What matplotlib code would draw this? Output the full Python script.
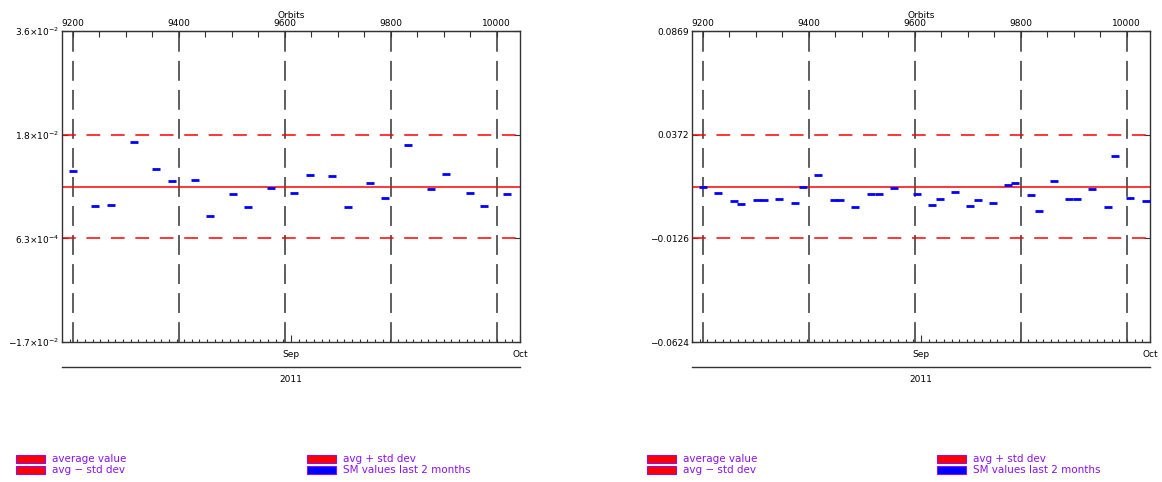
import numpy as np
import matplotlib.pyplot as plt
from matplotlib.patches import Rectangle
from matplotlib.ticker import MultipleLocator

# time axis: 60 days (2 Aug 2011 -> 1 Oct 2011) expressed in orbit numbers
orbit_start = 9180.0
orbits_per_day = 14.4
n_days = 60
orbit_ticks = [9200, 9400, 9600, 9800, 10000]
month_labels = ['Sep', 'Oct']
month_days = [30, 60]
year_label = '2011'

# left panel
left_avg = 0.009445
left_std = 0.008815
left_yticklabels = [r'$-1.7{\times}10^{-2}$', r'$6.3{\times}10^{-4}$',
                    r'$1.8{\times}10^{-2}$', r'$3.6{\times}10^{-2}$']
left_orbits = [9200, 9243, 9272, 9315, 9358, 9388, 9431, 9459, 9502, 9531,
               9574, 9617, 9647, 9690, 9719, 9761, 9789, 9833, 9876, 9905,
               9949, 9977, 10020]
left_values = [0.01202, 0.00607, 0.00630, 0.01696, 0.01242, 0.01038, 0.01061,
               0.00443, 0.00811, 0.00590, 0.00919, 0.00834, 0.01146, 0.01123,
               0.00590, 0.00998, 0.00755, 0.01656, 0.00896, 0.01163, 0.00834,
               0.00607, 0.00811]

# right panel
right_avg = 0.0123
right_std = 0.0249
right_yticklabels = ['\u22120.0624', '\u22120.0126', '0.0372', '0.0869']
right_orbits = [9200, 9229, 9259, 9273, 9302, 9316, 9345, 9375, 9389, 9417,
                9447, 9460, 9488, 9518, 9532, 9561, 9604, 9633, 9647, 9676,
                9704, 9719, 9747, 9776, 9790, 9819, 9834, 9863, 9892, 9906,
                9935, 9964, 9978, 10007, 10036]
right_values = [0.01206, 0.00918, 0.00518, 0.00389, 0.00566, 0.00566, 0.00630,
                0.00454, 0.01206, 0.01798, 0.00566, 0.00566, 0.00229, 0.00870,
                0.00870, 0.01158, 0.00870, 0.00341, 0.00630, 0.00982, 0.00277,
                0.00566, 0.00454, 0.01318, 0.01382, 0.00806, 0.00053, 0.01494,
                0.00630, 0.00630, 0.01094, 0.00229, 0.02711, 0.00694, 0.00518]

legend_labels = [['average value', 'avg \u2212 std dev'],
                 ['avg + std dev', 'SM values last 2 months']]
legend_colors = [['red', 'red'], ['red', 'blue']]

W, H = 1162, 482
AXC = '#333333'
PURPLE = '#8B10F0'


def draw_panel(ax, orbits, values, avg, std, ylabels):
    lo, hi = avg - 3 * std, avg + 3 * std
    ax.set_xlim(orbit_start, orbit_start + n_days * orbits_per_day)
    ax.set_ylim(lo, hi)

    for o in orbit_ticks:
        ax.axvline(o, color=AXC, lw=1.1, dashes=(13, 6), zorder=1)
    ax.axhline(avg, color='red', lw=1.1, zorder=2)
    for lev in (avg + std, avg - std):
        ax.axhline(lev, color='red', lw=1.1, dashes=(9, 7), zorder=2)
    ax.plot(orbits, values, ls='none', marker='_', ms=6, mew=2.0,
            color='blue', zorder=3)

    for sp in ax.spines.values():
        sp.set_color(AXC)
        sp.set_linewidth(1.0)

    ax.set_yticks([lo, avg - std, avg + std, hi])
    ax.set_yticklabels(ylabels)
    ax.tick_params(axis='y', direction='in', left=True, right=True,
                   length=4, width=0.8, color=AXC, labelsize=6.5, pad=2)

    # bottom axis: days, with month labels
    ax.set_xticks([orbit_start + d * orbits_per_day for d in month_days])
    ax.set_xticklabels(month_labels)
    ax.set_xticks(orbit_start + np.arange(n_days + 1) * orbits_per_day,
                  minor=True)
    ax.tick_params(axis='x', which='major', direction='in', length=5,
                   width=0.8, color=AXC, labelsize=6.5, pad=6)
    ax.tick_params(axis='x', which='minor', direction='in', length=2.5,
                   width=0.8, color=AXC)

    # top axis: orbits
    top = ax.secondary_xaxis('top')
    top.set_xticks(orbit_ticks)
    top.xaxis.set_minor_locator(MultipleLocator(50))
    top.tick_params(which='both', direction='in', length=4, width=0.8,
                    color=AXC, labelsize=6.5, pad=2)
    top.set_xlabel('Orbits', fontsize=6.5, labelpad=1)
    top.spines['top'].set_color(AXC)

    # year bar below the date axis
    ax.plot([0, 1], [-0.081, -0.081], transform=ax.transAxes, color=AXC,
            lw=1.0, clip_on=False)
    ax.text(0.5, -0.12, year_label, transform=ax.transAxes, ha='center',
            va='center', fontsize=6.5)


def draw_legend(fig, x0, col_gap):
    for c in range(2):
        for r in range(2):
            px = x0 + c * col_gap
            py = 455 + r * 11
            fig.add_artist(Rectangle((px / W, 1 - (py + 8) / H), 29 / W, 8 / H,
                                     transform=fig.transFigure,
                                     facecolor=legend_colors[c][r],
                                     edgecolor=PURPLE, lw=0.8))
            fig.text((px + 36) / W, 1 - (py + 4) / H, legend_labels[c][r],
                     color=PURPLE, fontsize=7.5, va='center', ha='left')


plt.rcParams['font.family'] = ['DejaVu Sans']
plt.rcParams['mathtext.fontset'] = 'dejavusans'

fig = plt.figure(figsize=(W / 100, H / 100), dpi=100)
ax1 = fig.add_axes([62 / W, 1 - 342 / H, 458 / W, 311 / H])
ax2 = fig.add_axes([692 / W, 1 - 342 / H, 458 / W, 311 / H])

draw_panel(ax1, left_orbits, left_values, left_avg, left_std, left_yticklabels)
draw_panel(ax2, right_orbits, right_values, right_avg, right_std,
           right_yticklabels)

draw_legend(fig, 16, 291)
draw_legend(fig, 647, 290)

fig.savefig('out.png', dpi=100)
